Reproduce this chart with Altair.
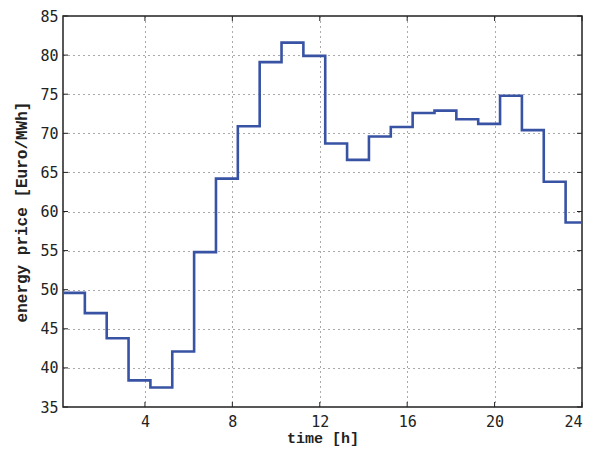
import altair as alt
import pandas as pd

hours = [0.25 + i for i in range(24)] + [24.25]
prices = [49.6, 47.0, 43.8, 38.4, 37.5, 42.1, 54.8, 64.2, 70.9, 79.1, 81.6, 79.9,
          68.7, 66.6, 69.6, 70.8, 72.6, 72.9, 71.8, 71.2, 74.8, 70.4, 63.8, 58.6]
prices_step = prices + [prices[-1]]
x_ticks = [4, 8, 12, 16, 20, 24]
y_ticks = [35, 40, 45, 50, 55, 60, 65, 70, 75, 80, 85]

W, H = 519, 391
LFONT = "DejaVu Sans Mono"
TFONT = "Liberation Mono"

df = pd.DataFrame({"t": hours, "p": prices_step})
xt = pd.DataFrame({"t": x_ticks})
yt = pd.DataFrame({"p": y_ticks})

xs = alt.Scale(domain=[0.25, 24], nice=False, zero=False)
ys = alt.Scale(domain=[35, 85], nice=False, zero=False)

x_axis = alt.Axis(
    values=x_ticks, title="time [h]", grid=True, gridDash=[1, 4],
    gridColor="#555", gridWidth=1, ticks=False, domain=False,
    labelOverlap=False,
    labelFont=LFONT, labelFontSize=15, labelFontWeight="normal", labelColor="#222",
    labelPadding=7, titleFont=TFONT, titleFontSize=15, titleFontWeight="bold",
    titleColor="#222", titlePadding=1)
y_axis = alt.Axis(
    values=y_ticks, title="energy price [Euro/MWh]", grid=True, gridDash=[1, 4],
    gridColor="#555", gridWidth=1, ticks=False, domain=False,
    labelOverlap=False,
    labelFont=LFONT, labelFontSize=15, labelFontWeight="normal", labelColor="#222",
    labelPadding=5, titleFont=TFONT, titleFontSize=16, titleFontWeight="bold",
    titleColor="#222", titlePadding=10)

line = alt.Chart(df).mark_line(interpolate="step-after", color="#3953a4",
                               strokeWidth=2.6, clip=True).encode(
    x=alt.X("t:Q", scale=xs, axis=x_axis),
    y=alt.Y("p:Q", scale=ys, axis=y_axis),
)

tick_col = "#222"
xb = alt.Chart(xt).mark_rule(color=tick_col, strokeWidth=1).encode(
    x=alt.X("t:Q", scale=xs, axis=x_axis), y=alt.value(H), y2=alt.value(H - 5))
xtop = alt.Chart(xt).mark_rule(color=tick_col, strokeWidth=1).encode(
    x=alt.X("t:Q", scale=xs, axis=x_axis), y=alt.value(0), y2=alt.value(5))
yl = alt.Chart(yt).mark_rule(color=tick_col, strokeWidth=1).encode(
    y=alt.Y("p:Q", scale=ys, axis=y_axis), x=alt.value(0), x2=alt.value(5))
yr = alt.Chart(yt).mark_rule(color=tick_col, strokeWidth=1).encode(
    y=alt.Y("p:Q", scale=ys, axis=y_axis), x=alt.value(W), x2=alt.value(W - 5))

chart = alt.layer(line, xb, xtop, yl, yr).properties(
    width=W, height=H,
    autosize=alt.AutoSizeParams(type="none"),
    padding={"left": 55, "top": 8, "right": 17, "bottom": 40},
).configure(background="white").configure_view(stroke="#222", strokeWidth=1.5)

chart.save("out.html", embed_options={"renderer": "svg", "actions": False})
